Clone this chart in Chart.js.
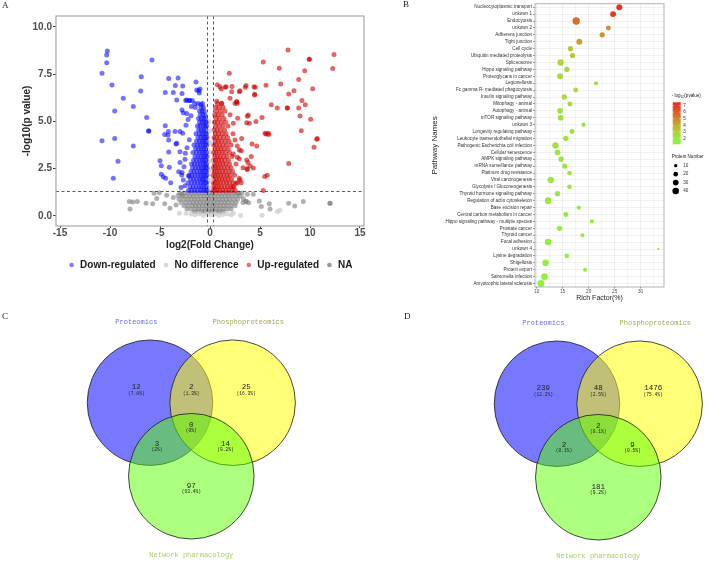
<!DOCTYPE html>
<html>
<head>
<meta charset="utf-8">
<title>Proteomics figure</title>
<script src="https://cdn.jsdelivr.net/npm/chart.js@4.4.1/dist/chart.umd.min.js"></script>
<style>
  html, body { margin: 0; padding: 0; background: #fff; }
  #page { position: relative; width: 708px; height: 564px; overflow: hidden; background: #fff; }
  #page canvas { position: absolute; }
  .tag { position: absolute; font: 9px "Liberation Serif", "DejaVu Serif", serif; line-height: 9px; color: #1a1a1a; }
</style>
</head>
<body>
<div id="page">
  <canvas id="volcano" width="370" height="285" style="left:0px;top:0px"></canvas>
  <canvas id="pathways" width="338" height="302" style="left:370px;top:0px"></canvas>
  <canvas id="vennC" width="354" height="274" style="left:0px;top:290px"></canvas>
  <canvas id="vennD" width="354" height="274" style="left:354px;top:290px"></canvas>
  <div class="tag" style="left:2px;top:1px">A</div>
  <div class="tag" style="left:403px;top:0px">B</div>
  <div class="tag" style="left:2px;top:312px">C</div>
  <div class="tag" style="left:404px;top:312px">D</div>
</div>
<script>
// ---------- panel A: volcano plot ----------
const fcCut = 0.263;   // log2(1.2)
const pCut = 1.301;    // -log10(0.05)

// [log2 fold change, -log10 p]
const downRegulated = [
  [-10.27,8.72],[-10.33,8.51],[-10.33,8.1],[-10.8,7.54],[-9.8,6.92],[-8.67,6.22],[-9.53,5.55],[-7.67,5.78],
  [-6.87,7.36],[-6.93,6.61],[-5.8,8.24],[-6.33,5.2],[-6.13,4.49],[-6.13,4.49],[-10.8,3.98],[-9.53,4.09],
  [-7.67,3.7],[-9.2,2.89],[-9.67,1.99],[-5.0,2.92],[-4.87,2.66],[-4.87,2.2],[-4.67,2.07],[-3.93,1.76],
  [-4.07,2.57],[-4.13,4.02],[-4.13,3.38],[-3.4,3.81],[-4.47,4.77],[-4.2,4.28],[-4.53,4.3],[-4.13,7.26],
  [-3.2,7.29],[-2.73,6.87],[-3.47,6.89],[-4.47,6.52],[-3.67,6.52],[-3.33,6.13],[-2.8,6.48],[-1.4,7.08],
  [-1.13,6.62],[-1.0,6.71],[-2.33,6.13],[-2.0,6.1],[-2.8,5.6],[-2.33,5.42],[-1.87,5.78],[-1.53,5.95],
  [-0.93,5.9],[-1.47,5.74],[-3.0,2.82],[-3.13,2.34],[-2.8,2.3],[-2.67,1.9],[-2.13,2.1],[-3.0,3.4],
  [-2.73,4.37],[-2.07,4.03],[-2.47,3.31],[-3.0,4.46],[-3.5,4.46],[-4.17,4.46],[-3.33,3.84],[-2.43,6.1],
  [-2.1,6.1],[-1.77,6.1],[-1.33,6.66],[-1.07,6.5],[-2.67,5.46],[-2.83,2.17],[-4.43,1.99],[-2.5,3.0],
  [-2.6,2.6],[-2.4,4.8],[-2.2,5.1],[-1.9,5.3],[-2.3,3.6],[-2.5,1.6],[-2.9,1.5],
  [-2.15,1.35],[-1.85,1.35],[-1.55,1.35],[-1.25,1.35],[-0.95,1.35],[-0.7,1.35],[-0.45,1.35],[-0.3,1.35],
  [-2.0,1.55],[-1.7,1.55],[-1.4,1.55],[-1.1,1.55],[-0.85,1.55],[-0.6,1.55],[-0.38,1.55],
  [-2.2,1.75],[-1.85,1.75],[-1.55,1.75],[-1.25,1.75],[-0.95,1.75],[-0.72,1.75],[-0.5,1.75],[-0.32,1.75],
  [-1.95,1.95],[-1.65,1.95],[-1.35,1.95],[-1.05,1.95],[-0.82,1.95],[-0.6,1.95],[-0.4,1.95],
  [-2.1,2.15],[-1.8,2.15],[-1.5,2.15],[-1.2,2.15],[-0.92,2.15],[-0.7,2.15],[-0.48,2.15],[-0.3,2.15],
  [-1.9,2.35],[-1.6,2.35],[-1.3,2.35],[-1.0,2.35],[-0.78,2.35],[-0.55,2.35],[-0.36,2.35],
  [-1.75,2.55],[-1.45,2.55],[-1.15,2.55],[-0.88,2.55],[-0.65,2.55],[-0.44,2.55],[-0.3,2.55],
  [-1.85,2.75],[-1.55,2.75],[-1.25,2.75],[-0.98,2.75],[-0.72,2.75],[-0.5,2.75],[-0.34,2.75],
  [-1.65,2.95],[-1.35,2.95],[-1.05,2.95],[-0.8,2.95],[-0.58,2.95],[-0.38,2.95],
  [-1.5,3.15],[-1.2,3.15],[-0.92,3.15],[-0.68,3.15],[-0.46,3.15],[-0.3,3.15],
  [-1.7,3.35],[-1.35,3.35],[-1.05,3.35],[-0.8,3.35],[-0.56,3.35],[-0.36,3.35],
  [-1.45,3.55],[-1.15,3.55],[-0.88,3.55],[-0.64,3.55],[-0.42,3.55],
  [-1.6,3.75],[-1.25,3.75],[-0.98,3.75],[-0.72,3.75],[-0.5,3.75],[-0.32,3.75],
  [-1.35,3.95],[-1.05,3.95],[-0.8,3.95],[-0.56,3.95],[-0.38,3.95],
  [-1.2,4.15],[-0.92,4.15],[-0.68,4.15],[-0.46,4.15],[-0.3,4.15],
  [-1.4,4.35],[-1.05,4.35],[-0.8,4.35],[-0.56,4.35],[-0.36,4.35],
  [-1.15,4.55],[-0.88,4.55],[-0.64,4.55],[-0.42,4.55],
  [-1.25,4.75],[-0.98,4.75],[-0.72,4.75],[-0.5,4.75],[-0.34,4.75],
  [-1.05,4.95],[-0.8,4.95],[-0.56,4.95],[-0.38,4.95],
  [-1.15,5.15],[-0.88,5.15],[-0.64,5.15],[-0.44,5.15],
  [-0.98,5.35],[-0.72,5.35],[-0.5,5.35],
  [-1.05,5.55],[-0.8,5.55],[-0.58,5.55],
  [-0.9,5.75],[-0.66,5.75],[-0.75,5.95],[-1.2,5.95]
];
const upRegulated = [
  [7.8,8.77],[12.4,8.54],[9.93,8.28],[9.93,8.28],[12.27,7.79],[6.93,7.81],[5.33,8.14],[9.47,7.68],
  [8.87,7.22],[1.93,7.54],[7.07,6.98],[5.6,6.91],[3.6,6.89],[4.53,6.8],[3.53,6.8],[10.27,6.73],
  [8.4,6.62],[7.87,6.45],[9.2,6.1],[4.47,6.39],[3.0,6.62],[2.2,6.85],[1.53,6.8],[1.13,6.71],
  [0.73,6.94],[2.67,6.04],[2.67,6.04],[6.73,5.71],[7.73,5.71],[7.73,5.71],[6.13,5.88],[9.53,5.88],
  [8.87,5.71],[9.0,5.29],[10.07,5.11],[5.2,5.21],[3.73,5.27],[3.67,4.93],[5.6,4.33],[5.87,4.3],
  [9.13,4.51],[10.73,4.09],[10.67,4.05],[10.4,3.63],[4.2,3.81],[4.13,3.14],[3.13,3.45],[3.8,2.82],
  [7.87,2.78],[4.33,2.54],[3.73,2.46],[5.47,2.08],[5.73,2.15],[5.33,1.34],[2.73,3.7],[2.93,3.03],
  [3.0,1.9],[2.73,1.76],[3.13,1.76],
  [1.0,6.83],[1.6,6.83],[2.17,6.57],[2.93,6.57],[4.4,6.83],[4.47,6.43],[3.83,5.34],[3.93,4.9],
  [4.6,4.99],[5.5,4.37],[5.83,4.37],[4.67,3.7],[3.67,2.96],[4.0,2.64],[3.3,2.55],[3.7,2.5],
  [2.93,1.99],[2.6,1.73],[2.27,1.55],[2.33,3.28],[2.73,3.1],[2.93,3.49],[2.5,4.02],[3.17,4.1],
  [2.33,4.9],[2.77,5.16],[2.73,5.96],[2.0,6.22],[1.17,5.96],[0.67,6.06],
  [0.3,1.35],[0.5,1.35],[0.75,1.35],[1.0,1.35],[1.3,1.35],[1.6,1.35],[1.9,1.35],[2.2,1.35],[2.5,1.35],
  [0.38,1.55],[0.62,1.55],[0.88,1.55],[1.15,1.55],[1.45,1.55],[1.75,1.55],[2.05,1.55],[2.4,1.55],
  [0.32,1.75],[0.52,1.75],[0.78,1.75],[1.05,1.75],[1.35,1.75],[1.65,1.75],[1.95,1.75],[2.3,1.75],
  [0.4,1.95],[0.65,1.95],[0.92,1.95],[1.2,1.95],[1.5,1.95],[1.8,1.95],[2.15,1.95],
  [0.3,2.15],[0.55,2.15],[0.8,2.15],[1.08,2.15],[1.38,2.15],[1.7,2.15],[2.0,2.15],[2.45,2.15],
  [0.42,2.35],[0.68,2.35],[0.95,2.35],[1.25,2.35],[1.55,2.35],[1.9,2.35],[2.25,2.35],
  [0.32,2.55],[0.56,2.55],[0.82,2.55],[1.1,2.55],[1.42,2.55],[1.75,2.55],[2.1,2.55],
  [0.45,2.75],[0.7,2.75],[0.98,2.75],[1.28,2.75],[1.6,2.75],[1.95,2.75],[2.6,2.75],
  [0.35,2.95],[0.6,2.95],[0.86,2.95],[1.15,2.95],[1.48,2.95],[1.85,2.95],
  [0.48,3.15],[0.74,3.15],[1.02,3.15],[1.35,3.15],[1.7,3.15],[2.2,3.15],
  [0.36,3.35],[0.62,3.35],[0.9,3.35],[1.22,3.35],[1.55,3.35],[1.95,3.35],
  [0.5,3.55],[0.78,3.55],[1.08,3.55],[1.4,3.55],[1.8,3.55],
  [0.38,3.75],[0.64,3.75],[0.95,3.75],[1.28,3.75],[1.65,3.75],[2.1,3.75],
  [0.52,3.95],[0.8,3.95],[1.12,3.95],[1.5,3.95],[1.9,3.95],
  [0.4,4.15],[0.66,4.15],[0.98,4.15],[1.35,4.15],[1.75,4.15],
  [0.54,4.35],[0.85,4.35],[1.2,4.35],[1.6,4.35],[2.3,4.35],
  [0.42,4.55],[0.7,4.55],[1.05,4.55],[1.45,4.55],
  [0.56,4.75],[0.9,4.75],[1.3,4.75],[1.8,4.75],
  [0.44,4.95],[0.75,4.95],[1.12,4.95],[1.55,4.95],
  [0.6,5.15],[0.95,5.15],[1.4,5.15],
  [0.48,5.35],[0.8,5.35],[1.2,5.35],[2.0,5.35],
  [0.65,5.55],[1.05,5.55],[1.5,5.55],
  [0.55,5.75],[0.9,5.75],[1.3,5.75],[0.75,5.95],[1.15,5.95],[2.5,5.95]
];
const noDifference = [
  [-1.9,0.1],[-1.5,0.06],[-1.1,0.12],[-0.7,0.04],[-0.3,0.09],[0.1,0.05],[0.5,0.11],[0.9,0.03],
  [1.3,0.08],[1.7,0.12],[2.1,0.06],[-2.4,0.15],[-3.07,0.14],[3.07,0.02],[2.33,0.14],[5.2,0.04],
  [6.73,0.23],[7.0,0.3],[-0.1,1.5],[0.1,1.9],[-0.05,2.4],[0.12,2.9],[-0.12,3.4],[0.05,3.9],
  [0.0,4.5],[-0.1,5.0]
];
const notAvailable = [
  [-3.0,1.22],[-2.6,1.22],[-2.2,1.22],[-1.85,1.22],[-1.5,1.22],[-1.15,1.22],[-0.8,1.22],[-0.45,1.22],[-0.1,1.22],
  [0.25,1.22],[0.6,1.22],[0.95,1.22],[1.3,1.22],[1.65,1.22],[2.0,1.22],[2.4,1.22],[2.8,1.22],[3.2,1.22],
  [-2.8,1.05],[-2.4,1.05],[-2.0,1.05],[-1.65,1.05],[-1.3,1.05],[-0.95,1.05],[-0.6,1.05],[-0.25,1.05],[0.1,1.05],
  [0.45,1.05],[0.8,1.05],[1.15,1.05],[1.5,1.05],[1.85,1.05],[2.2,1.05],[2.6,1.05],[3.0,1.05],
  [-3.1,0.88],[-2.65,0.88],[-2.25,0.88],[-1.9,0.88],[-1.55,0.88],[-1.2,0.88],[-0.85,0.88],[-0.5,0.88],[-0.15,0.88],
  [0.2,0.88],[0.55,0.88],[0.9,0.88],[1.25,0.88],[1.6,0.88],[1.95,0.88],[2.35,0.88],[2.75,0.88],
  [-2.9,0.71],[-2.45,0.71],[-2.05,0.71],[-1.7,0.71],[-1.35,0.71],[-1.0,0.71],[-0.65,0.71],[-0.3,0.71],[0.05,0.71],
  [0.4,0.71],[0.75,0.71],[1.1,0.71],[1.45,0.71],[1.8,0.71],[2.2,0.71],[2.6,0.71],[3.3,0.71],
  [-2.6,0.54],[-2.2,0.54],[-1.8,0.54],[-1.45,0.54],[-1.1,0.54],[-0.75,0.54],[-0.4,0.54],[-0.05,0.54],
  [0.3,0.54],[0.65,0.54],[1.0,0.54],[1.35,0.54],[1.7,0.54],[2.1,0.54],[2.5,0.54],
  [-2.3,0.37],[-1.9,0.37],[-1.5,0.37],[-1.15,0.37],[-0.8,0.37],[-0.45,0.37],[-0.1,0.37],
  [0.25,0.37],[0.6,0.37],[0.95,0.37],[1.3,0.37],[1.7,0.37],[2.1,0.37],
  [-1.6,0.22],[-1.2,0.22],[-0.85,0.22],[-0.5,0.22],[-0.15,0.22],[0.2,0.22],[0.55,0.22],[0.9,0.22],[1.3,0.22],
  [-8.07,0.76],[-7.73,0.74],[-7.27,0.76],[-8.0,0.37],[-6.4,0.67],[-5.6,1.2],[-5.07,1.23],[-5.33,0.93],
  [-5.73,0.65],[-4.53,0.65],[-4.33,1.1],[-4.0,0.41],[-3.67,0.98],[-3.4,0.58],[-3.2,1.08],[-2.8,1.15],
  [2.87,1.2],[3.33,0.93],[3.73,1.15],[4.33,1.15],[3.6,0.77],[3.6,0.77],[3.87,0.7],[4.93,0.79],
  [5.13,0.5],[5.93,0.65],[6.0,0.37],[7.87,0.67],[8.47,0.53],[9.33,0.76],[12.0,0.67],[12.0,0.67]
];

// ---------- panel B: KEGG bubble chart ----------
const pathwayNames = [
  'Nucleocytoplasmic transport', 'unkown 1', 'Endocytosis', 'unkown 2', 'Adherens junction',
  'Tight junction', 'Cell cycle', 'Ubiquitin mediated proteolysis', 'Spliceosome', 'Hippo signaling pathway',
  'Proteoglycans in cancer', 'Legionellosis', 'Fc gamma R- mediated phagocytosis', 'Insulin signaling pathway',
  'Mitophagy - animal', 'Autophagy - animal', 'mTOR signaling pathway', 'unkown 3', 'Longevity regulating pathway',
  'Leukocyte transendothelial migration', 'Pathogenic Escherichia coli infection', 'Cellular senescence',
  'AMPK signaling pathway', 'mRNA surveillance pathway', 'Platinum drug resistance', 'Viral carcinogenesis',
  'Glycolysis / Gluconeogenesis', 'Thyroid hormone signaling pathway', 'Regulation of actin cytoskeleton',
  'Base excision repair', 'Central carbon metabolism in cancer', 'Hippo signaling pathway - multiple species',
  'Prostate cancer', 'Thyroid cancer', 'Focal adhesion', 'unkown 4', 'Lysine degradation', 'Shigellosis',
  'Protein export', 'Salmonella infection', 'Amyotrophic lateral sclerosis'
];
const richFactor = [25.9, 24.7, 17.6, 23.8, 22.6, 18.2, 16.5, 16.9, 14.6, 15.8, 14.5, 21.4, 17.5, 15.3,
  16.4, 14.5, 14.6, 19.0, 16.8, 15.6, 13.6, 14.0, 14.7, 15.4, 16.3, 12.7, 16.3, 14.0, 12.2, 18.1, 15.6,
  20.6, 14.4, 18.8, 12.2, 33.4, 15.8, 11.7, 19.3, 11.5, 10.8];
const negLogP = [7.2, 6.9, 5.6, 4.6, 4.5, 4.3, 3.2, 3.1, 2.7, 2.6, 2.6, 2.5, 2.5, 2.4, 2.4, 2.3, 2.3, 2.3,
  2.2, 2.2, 2.2, 2.1, 2.1, 2.0, 2.0, 2.0, 1.9, 1.9, 1.9, 1.8, 1.8, 1.7, 1.7, 1.7, 1.6, 1.6, 1.5, 1.5,
  1.4, 1.4, 1.3];
const proteinCount = [33, 33, 50, 23, 26, 33, 26, 26, 37, 26, 33, 15, 23, 26, 23, 30, 30, 17, 23, 26, 37,
  30, 26, 26, 20, 37, 20, 26, 40, 17, 23, 15, 26, 15, 40, 5, 20, 40, 15, 40, 45];
const richTicks = [10, 15, 20, 25, 30];
const colorbarTicks = [2, 3, 4, 5, 6, 7];
const sizeLegend = [10, 20, 30, 40];

// colour scale for -log10(pvalue), low = green, high = red
const pStops = [1.1, 2.0, 3.0, 4.0, 5.0, 6.0, 7.5];
const pStopColors = [[140,242,64],[154,232,62],[178,208,56],[198,172,48],[210,132,42],[220,92,38],[230,40,32]];

// ---------- panels C and D: Venn diagrams ----------
const vennSets = ['Proteomics', 'Phosphoproteomics', 'Network pharmacology'];
// regions: A only, A&B, B only, A&B&C, A&C, B&C, C only
const vennCountsC = [12, 2, 25, 0, 3, 14, 97];
const vennCountsD = [239, 48, 1476, 2, 2, 9, 181];

function rgb(c) { return 'rgb(' + c.join(',') + ')'; }

function pColor(v) {
  let i = 0;
  while (i < pStops.length - 2 && v > pStops[i + 1]) i++;
  const t = Math.min(1, Math.max(0, (v - pStops[i]) / (pStops[i + 1] - pStops[i])));
  return rgb(pStopColors[i].map((c0, k) => Math.round(c0 + (pStopColors[i + 1][k] - c0) * t)));
}

function sizeScale(n) { return 0.52 * Math.sqrt(n); }

const sans = '"Liberation Sans", Arial, sans-serif';
const mono = '"Liberation Mono", "Courier New", monospace';
const boldFont = {family: sans, size: 10, weight: 'bold'};

// ---- A ----
const volcanoDeco = {
  id: 'volcanoDeco',
  afterDatasetsDraw(chart) {
    const {ctx, chartArea: a, scales: {x, y}} = chart;
    ctx.save();
    ctx.strokeStyle = '#333';
    ctx.lineWidth = 0.8;
    ctx.setLineDash([3, 2.5]);
    ctx.beginPath();
    [-fcCut, fcCut].forEach(v => {
      const px = Math.round(x.getPixelForValue(v)) + 0.5;
      ctx.moveTo(px, a.top);
      ctx.lineTo(px, a.bottom);
    });
    const py = Math.round(y.getPixelForValue(pCut)) + 0.5;
    ctx.moveTo(a.left, py);
    ctx.lineTo(a.right, py);
    ctx.stroke();
    ctx.setLineDash([]);
    ctx.strokeStyle = '#a8a8a8';
    ctx.lineWidth = 1.2;
    ctx.strokeRect(a.left, a.top, a.right - a.left, a.bottom - a.top);

    // legend below the x axis title
    const items = chart.data.datasets.map(d => [d.label, d.legendColor]);
    ctx.font = 'bold 10px ' + sans;
    ctx.textBaseline = 'middle';
    const widths = items.map(it => ctx.measureText(it[0]).width);
    const total = widths.reduce((s, w) => s + 8.5 + w, 0) + 10.4 * (items.length - 1);
    let cx = (a.left + a.right) / 2 + 2 - total / 2;
    const ly = a.bottom + 39;
    items.forEach((it, i) => {
      ctx.fillStyle = it[1];
      ctx.beginPath();
      ctx.arc(cx, ly, 2.3, 0, Math.PI * 2);
      ctx.fill();
      ctx.fillStyle = '#1a1a1a';
      ctx.fillText(it[0], cx + 8.5, ly);
      cx += 8.5 + widths[i] + 10.4;
    });
    ctx.restore();
  }
};

function pts(arr) { return arr.map(p => ({x: p[0], y: p[1]})); }

new Chart(document.getElementById('volcano'), {
  type: 'scatter',
  data: {
    datasets: [
      {label: 'Down-regulated', data: pts(downRegulated), backgroundColor: 'rgba(0,0,255,0.55)', legendColor: 'rgba(40,40,255,0.6)'},
      {label: 'No difference', data: pts(noDifference), backgroundColor: 'rgba(205,205,205,0.75)', legendColor: '#d6d6d6'},
      {label: 'Up-regulated', data: pts(upRegulated), backgroundColor: 'rgba(205,0,0,0.6)', legendColor: 'rgba(215,40,40,0.65)'},
      {label: 'NA', data: pts(notAvailable), backgroundColor: 'rgba(127,127,127,0.62)', legendColor: '#9a9a9a'}
    ]
  },
  options: {
    responsive: false,
    animation: false,
    events: [],
    layout: {autoPadding: false, padding: {left: 0, right: 6, top: 16, bottom: 29}},
    elements: {point: {radius: 2.5, borderWidth: 0, hoverRadius: 2.5}},
    plugins: {legend: {display: false}, tooltip: {enabled: false}},
    scales: {
      x: {
        type: 'linear', min: -15.4, max: 15.4,
        afterFit: s => { s.height = 30; },
        ticks: {stepSize: 5, includeBounds: false, color: '#4d4d4d', font: boldFont, padding: -1, maxRotation: 0},
        grid: {drawOnChartArea: false, tickLength: 2, tickColor: '#444'},
        border: {display: false},
        title: {display: true, text: 'log2(Fold Change)', color: '#262626', font: boldFont, padding: {top: 0, bottom: 5}}
      },
      y: {
        type: 'linear', min: -0.53, max: 10.57,
        afterFit: s => { s.width = 56; },
        ticks: {stepSize: 2.5, includeBounds: false, color: '#4d4d4d', font: boldFont, padding: 1,
                callback: v => v.toFixed(1)},
        grid: {drawOnChartArea: false, tickLength: 3, tickColor: '#444'},
        border: {display: false},
        title: {display: true, text: '-log10(p value)', color: '#262626', font: boldFont, padding: {top: 21.5, bottom: 0}}
      }
    }
  },
  plugins: [volcanoDeco]
});

// ---- B ----
const pathwayLegend = {
  id: 'pathwayLegend',
  afterDraw(chart) {
    const {ctx, chartArea: a} = chart;
    ctx.save();
    ctx.strokeStyle = '#a0a0a0';
    ctx.lineWidth = 0.8;
    ctx.strokeRect(a.left, a.top, a.right - a.left, a.bottom - a.top);

    const lx = a.right + 7.7;
    ctx.textBaseline = 'middle';
    ctx.textAlign = 'left';
    ctx.fillStyle = '#222';
    let tx = lx;
    ctx.font = '4.6px ' + sans;
    ctx.fillText('- log', tx, 95.7);
    tx += ctx.measureText('- log').width;
    ctx.font = '3.3px ' + sans;
    ctx.fillText('10', tx, 97);
    tx += ctx.measureText('10').width;
    ctx.font = '4.6px ' + sans;
    ctx.fillText('(pvalue)', tx, 95.7);

    const barTop = 102.3, barBottom = 144.3, barX = a.right + 8.7, barW = 8;
    const pMin = pStops[0], pMax = pStops[pStops.length - 1];
    const grad = ctx.createLinearGradient(0, barBottom, 0, barTop);
    pStops.forEach((v, i) => grad.addColorStop((v - pMin) / (pMax - pMin), rgb(pStopColors[i])));
    ctx.fillStyle = grad;
    ctx.fillRect(barX, barTop, barW, barBottom - barTop);
    colorbarTicks.forEach(v => {
      const yy = barBottom - (v - pMin) / (pMax - pMin) * (barBottom - barTop);
      ctx.strokeStyle = 'rgba(255,255,255,0.9)';
      ctx.lineWidth = 0.5;
      ctx.beginPath();
      ctx.moveTo(barX, yy); ctx.lineTo(barX + 1.6, yy);
      ctx.moveTo(barX + barW - 1.6, yy); ctx.lineTo(barX + barW, yy);
      ctx.stroke();
      ctx.fillStyle = '#333';
      ctx.fillText(String(v), a.right + 19.3, yy);
    });

    ctx.fillStyle = '#222';
    ctx.fillText('Protein Number', lx, 156.7);
    sizeLegend.forEach((n, i) => {
      const yy = 165.7 + i * 8.45;
      ctx.fillStyle = '#000';
      ctx.beginPath();
      ctx.arc(a.right + 11.7, yy, sizeScale(n), 0, Math.PI * 2);
      ctx.fill();
      ctx.fillStyle = '#333';
      ctx.fillText(String(n), a.right + 19.3, yy);
    });
    ctx.restore();
  }
};

const smallFont = {family: sans, size: 4.6};

new Chart(document.getElementById('pathways'), {
  type: 'bubble',
  data: {
    labels: pathwayNames,
    datasets: [{
      data: pathwayNames.map((name, i) => ({x: richFactor[i], y: name, r: sizeScale(proteinCount[i])})),
      backgroundColor: negLogP.map(pColor),
      borderWidth: 0,
      hoverRadius: 0
    }]
  },
  options: {
    responsive: false,
    animation: false,
    events: [],
    layout: {autoPadding: false, padding: {left: 0, right: 44, top: 2, bottom: 0}},
    plugins: {legend: {display: false}, tooltip: {enabled: false}},
    scales: {
      x: {
        type: 'linear', min: 9.67, max: 34.5,
        afterFit: s => { s.height = 15; },
        ticks: {stepSize: 2.5, includeBounds: false, autoSkip: false, maxRotation: 0, padding: 0,
                color: '#4d4d4d', font: smallFont,
                callback: v => richTicks.includes(v) ? String(v) : ''},
        grid: {color: '#e6e6e6',
               lineWidth: c => richTicks.includes(c.tick && c.tick.value) ? 0.7 : 0.4,
               tickLength: 1.5,
               tickColor: c => richTicks.includes(c.tick && c.tick.value) ? '#555' : 'rgba(0,0,0,0)'},
        border: {display: false},
        title: {display: true, text: 'Rich Factor(%)', color: '#222', font: {family: sans, size: 7}, padding: 0}
      },
      y: {
        type: 'category', labels: pathwayNames, offset: true,
        afterFit: s => { s.width = 165; },
        ticks: {autoSkip: false, color: '#333', font: smallFont, padding: 1},
        grid: {color: '#e6e6e6', lineWidth: 0.6, tickLength: 2, tickColor: '#555'},
        border: {display: false},
        title: {display: true, text: 'Pathway Names', color: '#222', font: {family: sans, size: 8}, padding: {top: 60, bottom: 0}}
      }
    }
  },
  plugins: [pathwayLegend]
});

// ---- C and D ----
// three-set Venn layout in diagram units
const vennCircleX = [-1, 1, 0];
const vennCircleY = [0.6, 0.6, -1.18];
const vennRadius = 1.52;
const vennFill = ['rgba(0,0,255,0.53)', 'rgba(255,255,0,0.53)', 'rgba(90,255,0,0.5)'];
const vennTitleColors = ['#6a6ae8', '#a8a55a', '#a6cf6a'];
const regionX = [-1.33, 0, 1.33, 0, -0.83, 0.83, 0];
const regionY = [0.97, 0.97, 0.97, 0.07, -0.39, -0.39, -1.41];
const titleX = [-1.33, 1.38, 0];
const titleY = [2.56, 2.56, -3.09];

function fmtPct(v) { return String(Math.round(v * 10) / 10); }

function drawVenn(id, counts, view) {
  const canvas = document.getElementById(id);
  const total = counts.reduce((s, c) => s + c, 0);
  const vennText = {
    id: 'vennText',
    afterDatasetsDraw(chart) {
      const {ctx, scales: {x, y}} = chart;
      ctx.save();
      ctx.textAlign = 'center';
      ctx.textBaseline = 'middle';
      counts.forEach((c, i) => {
        const px = x.getPixelForValue(regionX[i]);
        const py = y.getPixelForValue(regionY[i]);
        ctx.fillStyle = '#222';
        ctx.font = '7.5px ' + mono;
        ctx.fillText(String(c), px, py);
        ctx.font = '4.6px ' + mono;
        ctx.fillText('(' + fmtPct(c / total * 100) + '%)', px, py + 6.3);
      });
      ctx.font = '7px ' + mono;
      vennSets.forEach((name, i) => {
        ctx.fillStyle = vennTitleColors[i];
        ctx.fillText(name, x.getPixelForValue(titleX[i]), y.getPixelForValue(titleY[i]));
      });
      ctx.restore();
    }
  };
  new Chart(canvas, {
    type: 'bubble',
    data: {
      datasets: [{
        data: vennCircleX.map((cx, i) => ({x: cx, y: vennCircleY[i], r: vennRadius * view.ppu})),
        backgroundColor: vennFill,
        borderColor: '#1a1a1a',
        borderWidth: 0.8,
        hoverRadius: 0,
        clip: false
      }]
    },
    options: {
      responsive: false,
      animation: false,
      events: [],
      layout: {autoPadding: false, padding: 0},
      plugins: {legend: {display: false}, tooltip: {enabled: false}},
      scales: {
        x: {display: false, min: -view.cx / view.ppu, max: (canvas.width - view.cx) / view.ppu},
        y: {display: false, min: -(canvas.height - view.cy) / view.ppu, max: view.cy / view.ppu}
      }
    },
    plugins: [vennText]
  });
}

drawVenn('vennC', vennCountsC, {cx: 191.3, cy: 137.5, ppu: 41.3});
drawVenn('vennD', vennCountsD, {cx: 244.3, cy: 138.5, ppu: 41.3});
</script>
</body>
</html>
